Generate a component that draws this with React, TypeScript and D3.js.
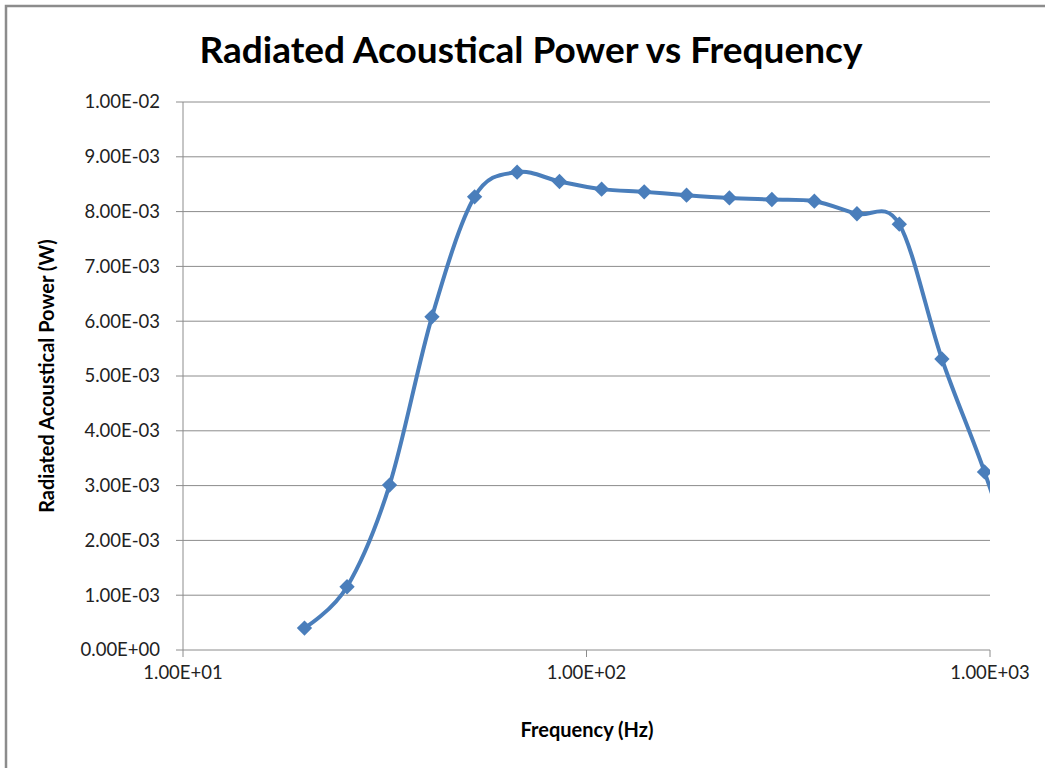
import React from 'react';
import * as d3 from 'd3';

// frequency (Hz) and radiated power (W)
const freqs = [20, 25.5, 32.5, 41.4, 52.8, 67.3, 85.7, 109, 139, 177, 226, 288, 367, 468, 596, 760, 969, 1235];
const power = [0.40e-3, 1.155e-3, 3.01e-3, 6.08e-3, 8.27e-3, 8.72e-3, 8.55e-3, 8.41e-3, 8.36e-3, 8.30e-3, 8.25e-3, 8.22e-3, 8.19e-3, 7.96e-3, 7.77e-3, 5.31e-3, 3.25e-3, 0.9e-3];
const xTicks = [10, 100, 1000];
const yTicks = d3.range(0, 11).map((i) => i * 1e-3);

const font = 'Lato, "Open Sans", sans-serif';
const lineColor = '#4A7EBB';
const gridColor = '#8C8C8C';

function sci(v: number) {
  if (v === 0) return '0.00E+00';
  const [m, e] = v.toExponential(2).split('e');
  const n = parseInt(e, 10);
  return `${m}E${n < 0 ? '-' : '+'}${String(Math.abs(n)).padStart(2, '0')}`;
}

export default function App() {
  const W = 1045;
  const H = 768;
  const margin = { top: 102, right: 55, bottom: 118, left: 183 };
  const width = W - margin.left - margin.right;
  const height = H - margin.top - margin.bottom;

  const x = d3.scaleLog().domain([10, 1000]).range([0, width]);
  const y = d3.scaleLinear().domain([0, 1e-2]).range([height, 0]);

  const data = freqs.map((f, i) => ({ f, p: power[i] }));
  const line = d3.line<{ f: number; p: number }>()
    .x((d) => x(d.f))
    .y((d) => y(d.p))
    .curve(d3.curveCatmullRom.alpha(0));

  const diamond = d3.symbol().type(d3.symbolDiamond2).size(150)();
  const shown = data.filter((d) => d.f <= 1000);

  return (
    <svg width={W} height={H} style={{ position: 'absolute', left: 0, top: 0, background: '#fff' }}>
      <rect x={6} y={6} width={W + 20} height={H + 20} fill="#fff" stroke="#8C8C8C" strokeWidth={2.5} />
      <text x={531} y={63} textAnchor="middle" fontFamily={font} fontWeight={700} fontSize={37} fill="#000">
        Radiated Acoustical Power vs Frequency
      </text>
      <defs>
        <clipPath id="plot-clip">
          <rect x={0} y={-2} width={width} height={height + 4} />
        </clipPath>
      </defs>
      <g transform={`translate(${margin.left},${margin.top})`}>
        {yTicks.map((t) => (
          <g key={t}>
            <line x1={-7} x2={width} y1={y(t)} y2={y(t)} stroke={gridColor} strokeWidth={1} />
            <text x={-23} y={y(t)} dy="0.35em" textAnchor="end" fontFamily={font} fontSize={18.5} fill="#222">
              {sci(t)}
            </text>
          </g>
        ))}
        <line x1={0} x2={0} y1={0} y2={height} stroke={gridColor} strokeWidth={1} />
        {xTicks.map((t) => (
          <g key={t}>
            <line x1={x(t)} x2={x(t)} y1={height} y2={height + 7} stroke={gridColor} strokeWidth={1} />
            <text x={x(t)} y={height + 16} dy="0.71em" textAnchor="middle" fontFamily={font} fontSize={18.5} fill="#222">
              {sci(t)}
            </text>
          </g>
        ))}
        <g clipPath="url(#plot-clip)">
          <path d={line(data) ?? ''} fill="none" stroke={lineColor} strokeWidth={4} strokeLinejoin="round" />
          {shown.map((d) => (
            <path key={d.f} d={diamond ?? ''} transform={`translate(${x(d.f)},${y(d.p)})`} fill={lineColor} />
          ))}
        </g>
      </g>
      <text x={587} y={737} textAnchor="middle" fontFamily={font} fontWeight={700} fontSize={20} fill="#000">
        Frequency (Hz)
      </text>
      <text transform={`translate(54,${margin.top + height / 2}) rotate(-90)`} textAnchor="middle" fontFamily={font} fontWeight={700} fontSize={20} fill="#000">
        Radiated Acoustical Power (W)
      </text>
    </svg>
  );
}
